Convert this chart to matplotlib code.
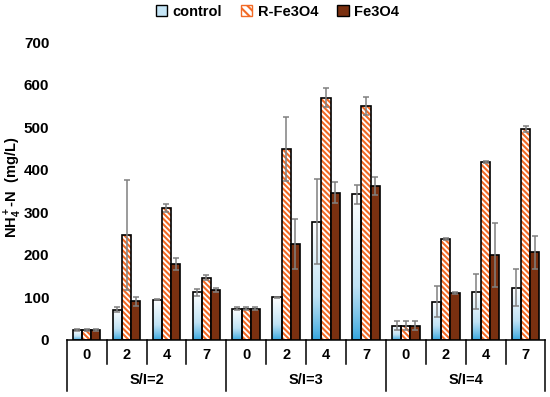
import numpy as np
import matplotlib
matplotlib.use('Agg')
import matplotlib.pyplot as plt
from matplotlib.colors import LinearSegmentedColormap
from matplotlib.patches import Patch

plt.rcParams['font.family'] = ['Liberation Sans', 'DejaVu Sans']
plt.rcParams['font.weight'] = 'bold'
plt.rcParams['mathtext.fontset'] = 'custom'
plt.rcParams['mathtext.rm'] = 'Liberation Sans:bold'
plt.rcParams['mathtext.bf'] = 'Liberation Sans:bold'
plt.rcParams['mathtext.default'] = 'bf'
plt.rcParams['hatch.linewidth'] = 1.5

# data
days = ['0', '2', '4', '7']
groups = ['S/I=2', 'S/I=3', 'S/I=4']
control = [23, 71, 95, 112, 74, 100, 278, 343, 34, 90, 114, 123]
control_err = [2, 6, 1, 8, 3, 1, 100, 22, 11, 37, 41, 43]
r_fe = [23, 247, 310, 147, 74, 449, 570, 551, 34, 238, 418, 497]
r_fe_err = [2, 129, 10, 6, 3, 76, 22, 21, 11, 2, 2, 7]
fe = [23, 91, 178, 118, 74, 225, 347, 363, 34, 111, 200, 206]
fe_err = [2, 10, 14, 5, 3, 59, 24, 21, 11, 2, 76, 39]

orange = '#f26a25'
brown = '#7a3010'
blue = '#2fa3dd'

fig = plt.figure(figsize=(5.5, 3.97), dpi=100)
ax = fig.add_axes([0.1213, 0.1436, 0.8705, 0.7494])

x = np.arange(len(control))
w = 0.23
ebar = dict(fmt='none', ecolor='#808080', elinewidth=1.1, capsize=2.3, capthick=1.1, zorder=5)

# control bars with vertical gradient
cmap = LinearSegmentedColormap.from_list('g', [(0, blue), (0.45, '#bfe2f4'), (1, 'white')])
grad = np.linspace(0, 1, 256).reshape(-1, 1) ** 0.8
bars_c = ax.bar(x - w, control, w, facecolor='none', edgecolor='black', linewidth=1.2, zorder=3)
for b in bars_c:
    x0, y0 = b.get_x(), b.get_y()
    im = ax.imshow(grad, cmap=cmap, origin='lower', aspect='auto', vmin=0, vmax=1,
                   extent=[x0, x0 + b.get_width(), y0, y0 + b.get_height()], zorder=2)
    im.set_clip_path(b)
ax.errorbar(x - w, control, yerr=control_err, **ebar)

# R-Fe3O4 hatched bars
ax.bar(x, r_fe, w, facecolor='white', edgecolor=orange, hatch='\\\\\\\\\\\\', linewidth=0, zorder=2)
ax.bar(x, r_fe, w, facecolor='none', edgecolor='black', linewidth=1.2, zorder=3)
ax.errorbar(x, r_fe, yerr=r_fe_err, **ebar)

# Fe3O4 bars
ax.bar(x + w, fe, w, facecolor=brown, edgecolor='black', linewidth=1.2, zorder=3)
ax.errorbar(x + w, fe, yerr=fe_err, **ebar)

ax.set_xlim(-0.5, len(control) - 0.5)
ax.set_ylim(0, 700)
ax.set_yticks(range(0, 701, 100))
ax.tick_params(axis='y', length=0, pad=12.5, labelsize=11)
ax.set_xticks([])
for s in ax.spines.values():
    s.set_visible(False)

# two-level category axis
tr = ax.get_xaxis_transform()
ax.plot([-0.5, len(control) - 0.5], [0, 0], color='black', lw=1.1, transform=tr, clip_on=False)
for i in range(len(control) + 1):
    edge = i - 0.5
    bottom = -0.172 if i % 4 == 0 else -0.081
    ax.plot([edge, edge], [0, bottom], color='black', lw=1.1, transform=tr, clip_on=False)
for i in range(len(control)):
    ax.text(i, -0.05, days[i % 4], transform=tr, ha='center', va='center', fontsize=10.5, fontweight='bold')
for g, name in enumerate(groups):
    ax.text(g * 4 + 1.5, -0.134, name, transform=tr, ha='center', va='center', fontsize=10.5, fontweight='bold')

ax.set_ylabel(r'NH$_4^+$-N  (mg/L)', fontsize=10.5, fontweight='bold')
ax.yaxis.set_label_coords(-0.09, 0.514)

handles = [Patch(facecolor='#c5e5f6', edgecolor='black', linewidth=1),
           Patch(facecolor='white', edgecolor=orange, hatch='\\\\\\\\', linewidth=1),
           Patch(facecolor=brown, edgecolor='black', linewidth=1)]
fig.legend(handles, ['control', 'R-Fe3O4', 'Fe3O4'], loc='center', bbox_to_anchor=(0.504, 0.97),
           ncol=3, frameon=False, handlelength=0.8, handleheight=0.8,
           handletextpad=0.35, columnspacing=1.3, prop={'weight': 'bold', 'size': 10.5})

fig.savefig('out.png', dpi=100)
